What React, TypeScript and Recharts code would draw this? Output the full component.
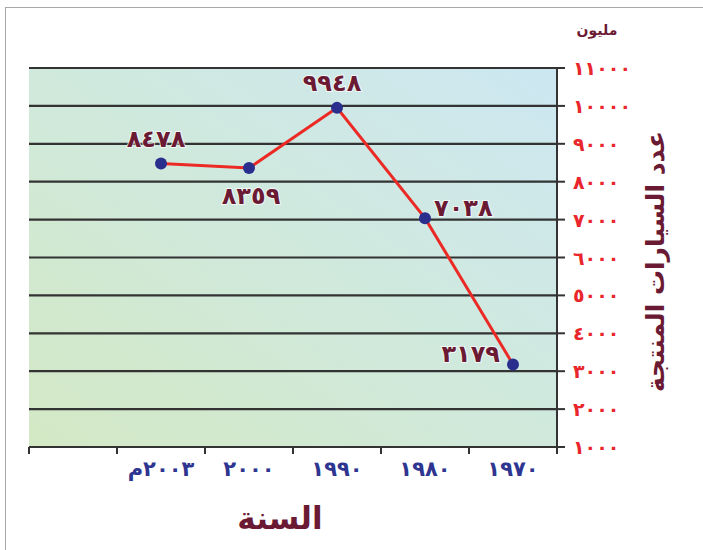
import React from 'react';
import { ComposedChart, Line, XAxis, YAxis, CartesianGrid, LabelList, Label } from 'recharts';

// ---- data ----
const categories: string[] = ['', '٢٠٠٣م', '٢٠٠٠', '١٩٩٠', '١٩٨٠', '١٩٧٠'];
const carsProduced: (number | null)[] = [null, 8478, 8359, 9948, 7038, 3179];
const yTicks: number[] = [1000, 2000, 3000, 4000, 5000, 6000, 7000, 8000, 9000, 10000, 11000];
const yAxisTitle = 'عدد السيارات المنتجة';
const yUnitLabel = 'مليون';
const xAxisTitle = 'السنة';
const labelSides: string[] = ['none', 'top', 'bottom', 'top', 'right', 'left'];

const data = categories.map((c, i) => ({ year: c, cars: carsProduced[i] }));

const AR_DIGITS = '٠١٢٣٤٥٦٧٨٩';
const toArabic = (n: number) => String(n).replace(/\d/g, (d) => AR_DIGITS[Number(d)]);

const FONT = '"DejaVu Sans", sans-serif';
const MAROON = '#6b1a33';
const NAVY = '#2d3590';
const RED = '#e8262b';

const XTick = (props: any) => {
  const { x, y, payload, index } = props;
  const half = payload && payload.offset ? payload.offset : 44;
  return (
    <g>
      {index === 0 && (
        <line x1={x - half} y1={y} x2={x - half} y2={y + 7} stroke="#333" strokeWidth={2} />
      )}
      <line x1={x + half} y1={y} x2={x + half} y2={y + 7} stroke="#333" strokeWidth={2} />
      <text
        x={x}
        y={y + 22}
        textAnchor="middle"
        dominantBaseline="central"
        fill={NAVY}
        fontSize={21}
        fontWeight="bold"
        fontFamily={FONT}
        letterSpacing={1.5}
      >
        {payload.value}
      </text>
    </g>
  );
};

const YTick = (props: any) => {
  const { x, y, payload } = props;
  return (
    <text
      x={x}
      y={y}
      textAnchor="start"
      dominantBaseline="central"
      fill={RED}
      fontSize={19}
      fontWeight="bold"
      fontFamily={FONT}
      letterSpacing={3}
    >
      {toArabic(payload.value)}
    </text>
  );
};

const PointLabel = (props: any) => {
  const { x, y, value, index } = props;
  if (value == null || x == null || y == null) return null;
  const side = labelSides[index];
  let tx = x;
  let ty = y;
  let anchor: 'start' | 'middle' | 'end' = 'middle';
  if (side === 'top') {
    tx = x - 5;
    ty = y - 25;
  } else if (side === 'bottom') {
    tx = x + 2;
    ty = y + 28;
  } else if (side === 'right') {
    tx = x + 9;
    ty = y - 10;
    anchor = 'start';
  } else if (side === 'left') {
    tx = x - 13;
    ty = y - 10;
    anchor = 'end';
  }
  return (
    <text
      x={tx}
      y={ty}
      textAnchor={anchor}
      dominantBaseline="central"
      fill={MAROON}
      fontSize={24}
      fontWeight="bold"
      fontFamily={FONT}
      letterSpacing={3.5}
      stroke="#ffffff"
      strokeWidth={2}
      strokeOpacity={0.7}
      paintOrder="stroke"
    >
      {toArabic(value)}
    </text>
  );
};

const YTitle = (props: any) => {
  const vb = props.viewBox || { x: 557, y: 68, width: 146, height: 379 };
  const cx = vb.x + 98;
  const cy = vb.y + vb.height / 2 + 4;
  return (
    <g>
      <text
        x={cx}
        y={cy}
        transform={`rotate(-90 ${cx} ${cy})`}
        textAnchor="middle"
        dominantBaseline="central"
        fill={MAROON}
        fontSize={25}
        fontWeight="bold"
        fontFamily={FONT}
      >
        {yAxisTitle}
      </text>
      <text
        x={vb.x + 40}
        y={vb.y - 38}
        textAnchor="middle"
        dominantBaseline="central"
        fill={MAROON}
        fontSize={14}
        fontWeight="bold"
        fontFamily={FONT}
      >
        {yUnitLabel}
      </text>
    </g>
  );
};

const XTitle = (props: any) => {
  const vb = props.viewBox || { x: 29, y: 447, width: 528, height: 40 };
  return (
    <text
      x={280}
      y={vb.y + 71}
      textAnchor="middle"
      dominantBaseline="central"
      fill={MAROON}
      fontSize={31}
      fontWeight="bold"
      fontFamily={FONT}
    >
      {xAxisTitle}
    </text>
  );
};

export default function App() {
  return (
    <div style={{ position: 'absolute', left: 0, top: 0, width: 703, height: 550, background: '#fff', overflow: 'hidden' }}>
      <div
        style={{
          position: 'absolute',
          left: 5,
          top: 7,
          width: 710,
          height: 560,
          borderLeft: '1.5px solid #a8a8a8',
          borderTop: '1.5px solid #a8a8a8',
        }}
      />
      <ComposedChart
        width={703}
        height={550}
        data={data}
        margin={{ top: 68, right: 0, bottom: 63, left: 29 }}
        style={{ position: 'absolute', left: 0, top: 0 }}
      >
        <defs>
          <linearGradient id="plotBg" x1="0" y1="1" x2="1" y2="0">
            <stop offset="0%" stopColor="#d3e8c4" />
            <stop offset="50%" stopColor="#d0e9dc" />
            <stop offset="100%" stopColor="#cde7f2" />
          </linearGradient>
        </defs>
        <CartesianGrid
          vertical={false}
          stroke="#333333"
          strokeWidth={2.2}
          fill="url(#plotBg)"
          fillOpacity={1}
        />
        <XAxis
          dataKey="year"
          scale="band"
          axisLine={{ stroke: '#333', strokeWidth: 2 }}
          tickLine={false}
          tickSize={0}
          tickMargin={0}
          height={40}
          interval={0}
          tick={<XTick />}
        >
          <Label content={<XTitle />} />
        </XAxis>
        <YAxis
          orientation="right"
          type="number"
          domain={[1000, 11000]}
          ticks={yTicks}
          interval={0}
          width={146}
          axisLine={{ stroke: '#333', strokeWidth: 2 }}
          tickLine={{ stroke: '#333', strokeWidth: 2 }}
          tickSize={8}
          tickMargin={8}
          tick={<YTick />}
        >
          <Label content={<YTitle />} />
        </YAxis>
        <Line
          dataKey="cars"
          stroke="#ec2a25"
          strokeWidth={3}
          dot={{ r: 6, fill: '#2a2f8e', stroke: 'none' }}
          activeDot={false}
          isAnimationActive={false}
          connectNulls={false}
        >
          <LabelList dataKey="cars" content={<PointLabel />} />
        </Line>
      </ComposedChart>
    </div>
  );
}
